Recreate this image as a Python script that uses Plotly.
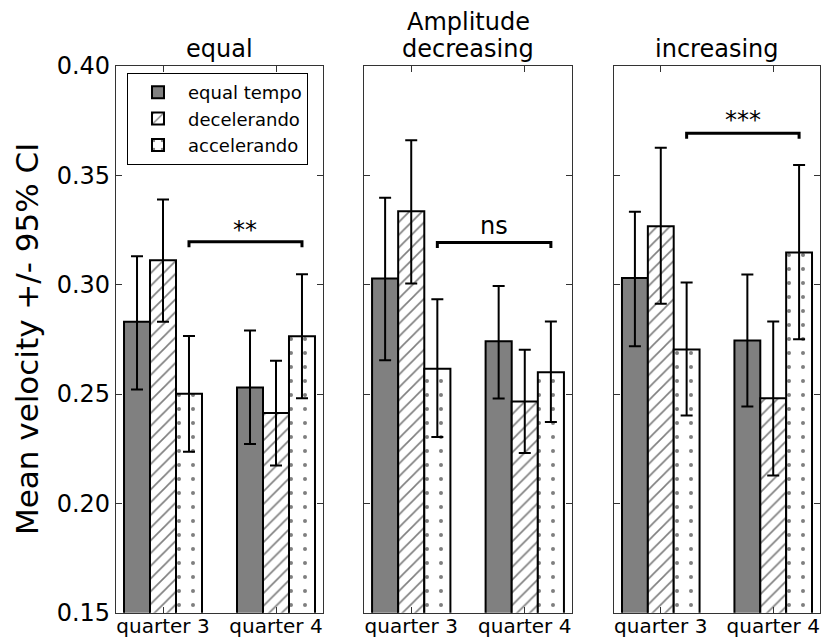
import plotly.graph_objects as go

# ---------------- data ----------------
conditions = ["equal", "decreasing", "increasing"]
quarters = ["quarter 3", "quarter 4"]
series = ["equal tempo", "decelerando", "accelerando"]

# rows = conditions (equal, decreasing, increasing), cols = quarters (3, 4)
equal_tempo_mean = [[0.283, 0.253], [0.3028, 0.2741], [0.3031, 0.2745]]
equal_tempo_lo = [[0.2521, 0.2272], [0.2654, 0.2480], [0.2719, 0.2443]]
equal_tempo_hi = [[0.3130, 0.2791], [0.3397, 0.2994], [0.3333, 0.3046]]

decelerando_mean = [[0.3112, 0.2413], [0.3336, 0.2466], [0.3267, 0.2481]]
decelerando_lo = [[0.2830, 0.2173], [0.3005, 0.2230], [0.2913, 0.2127]]
decelerando_hi = [[0.3390, 0.2652], [0.3661, 0.2703], [0.3626, 0.2832]]

accelerando_mean = [[0.2501, 0.2764], [0.2616, 0.2600], [0.2704, 0.3147]]
accelerando_lo = [[0.2236, 0.2481], [0.2303, 0.2372], [0.2402, 0.2750]]
accelerando_hi = [[0.2765, 0.3048], [0.2933, 0.2832], [0.3010, 0.3547]]

bracket_y = [0.3196, 0.3193, 0.3692]
bracket_labels = ["**", "ns", "***"]

y_ticks = [0.15, 0.20, 0.25, 0.30, 0.35, 0.40]
y_ticktext = ["0.15", "0.20", "0.25", "0.30", "0.35", "0.40"]

# ---------------- styling ----------------
W, H = 821, 639
FONT = "DejaVu Sans"
panel_px = [(116, 323), (364, 572), (614, 820)]
ytop_px, ybot_px = 66, 612.7
bargap = 0.31
x_range = [-0.416, 1.416]
x_pos = [0, 1]
label_yshift = [-4, 0, -3]

styles = [
    dict(color="#808080", line=dict(color="black", width=2)),
    dict(color="white", line=dict(color="black", width=2),
         pattern=dict(shape="/", fgcolor="black", bgcolor="white", size=9, solidity=0.18)),
    dict(color="white", line=dict(color="black", width=2),
         pattern=dict(shape=".", fgcolor="black", bgcolor="white", size=14, solidity=0.065)),
]
means = [equal_tempo_mean, decelerando_mean, accelerando_mean]
los = [equal_tempo_lo, decelerando_lo, accelerando_lo]
his = [equal_tempo_hi, decelerando_hi, accelerando_hi]

fig = go.Figure()
for p in range(3):
    suf = "" if p == 0 else str(p + 1)
    for s in range(3):
        m = means[s][p]
        up = [h - v for h, v in zip(his[s][p], m)]
        dn = [v - l for v, l in zip(m, los[s][p])]
        fig.add_trace(go.Bar(
            x=x_pos, y=m, name=series[s], legendgroup=series[s], showlegend=(p == 0),
            xaxis="x" + suf, yaxis="y" + suf, marker=styles[s],
            error_y=dict(type="data", symmetric=False, array=up, arrayminus=dn,
                         color="black", thickness=2, width=6),
        ))

layout = dict(
    width=W, height=H, margin=dict(l=0, r=0, t=0, b=0, autoexpand=False),
    paper_bgcolor="white", plot_bgcolor="white",
    barmode="group", bargap=bargap, bargroupgap=0,
    font=dict(family=FONT, color="black"),
    legend=dict(x=127 / W, y=1 - 73 / H, xanchor="left", yanchor="top",
                bordercolor="black", borderwidth=1, bgcolor="white",
                itemwidth=50,
                font=dict(size=18, family=FONT), tracegroupgap=0),
)
bar_w = (1 - bargap) / 3
shapes = []
annotations = []
for p in range(3):
    suf = "" if p == 0 else str(p + 1)
    x0, x1 = panel_px[p]
    layout["xaxis" + suf] = dict(
        domain=[x0 / W, x1 / W], range=x_range, tickvals=x_pos, ticktext=quarters,
        ticks="inside", ticklen=6, tickcolor="#333", mirror="allticks", showline=True,
        linecolor="#333", linewidth=1.2, showgrid=False, zeroline=False,
        ticklabelstandoff=-5,
        tickfont=dict(size=20, family=FONT), anchor="y" + suf,
    )
    layout["yaxis" + suf] = dict(
        domain=[1 - ybot_px / H, 1 - ytop_px / H], range=[0.15, 0.40],
        tickvals=y_ticks, ticktext=y_ticktext, showticklabels=(p == 0),
        ticks="inside", ticklen=6, tickcolor="#333", mirror="allticks", showline=True,
        linecolor="#333", linewidth=1.2, showgrid=False, zeroline=False,
        tickfont=dict(size=24, family=FONT), anchor="x" + suf,
    )
    # significance bracket between accelerando bars of the two quarters
    bx0 = x_pos[0] + bar_w
    bx1 = x_pos[1] + bar_w
    by = bracket_y[p]
    d = 0.0025
    shapes.append(dict(type="path", xref="x" + suf, yref="y" + suf,
                       path=f"M {bx0},{by - d} L {bx0},{by} L {bx1},{by} L {bx1},{by - d}",
                       line=dict(color="black", width=3)))
    annotations.append(dict(x=(bx0 + bx1) / 2, y=by, xref="x" + suf, yref="y" + suf,
                            text=bracket_labels[p], showarrow=False, xanchor="center",
                            yanchor="bottom", yshift=label_yshift[p],
                            font=dict(size=24, family=FONT)))
    annotations.append(dict(x=(x0 + x1) / 2 / W, y=1 - ytop_px / H, xref="paper", yref="paper",
                            text=conditions[p], showarrow=False, xanchor="center",
                            yanchor="bottom", yshift=1, font=dict(size=24, family=FONT)))

annotations.append(dict(x=(panel_px[1][0] + panel_px[1][1]) / 2 / W, y=1 - 6 / H,
                        xref="paper", yref="paper", text="Amplitude", showarrow=False,
                        xanchor="center", yanchor="top", font=dict(size=24, family=FONT)))
annotations.append(dict(x=27 / W, y=1 - 339 / H, xref="paper", yref="paper",
                        text="Mean velocity +/- 95% CI", textangle=-90, showarrow=False,
                        xanchor="center", yanchor="middle",
                        font=dict(size=31, family=FONT)))
layout["shapes"] = shapes
layout["annotations"] = annotations
fig.update_layout(**layout)
fig.write_html("out.html", config={"displayModeBar": False},
               post_script="document.body.style.margin='0px';")
